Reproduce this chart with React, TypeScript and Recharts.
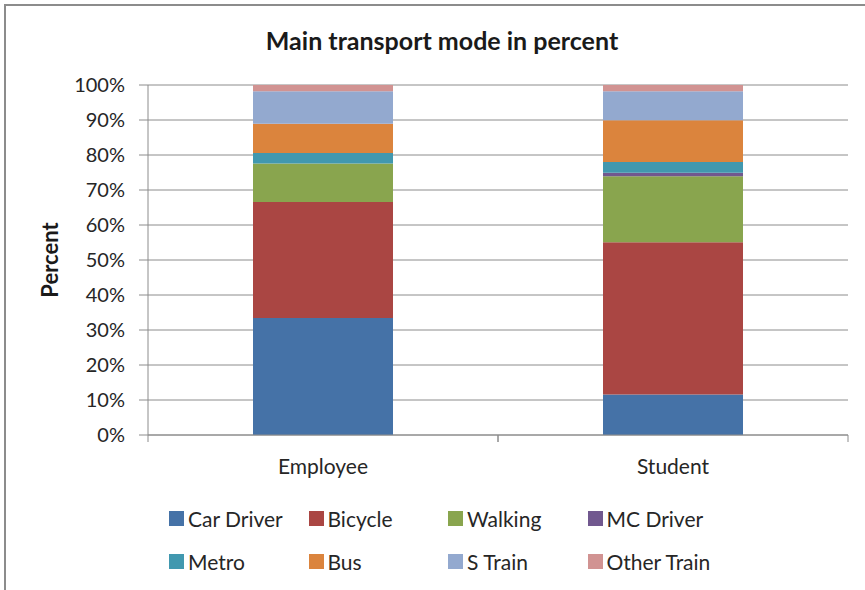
import React from 'react';
import { BarChart, Bar, XAxis, YAxis, CartesianGrid } from 'recharts';

const categories = ['Employee', 'Student'];
const carDriver = [33.4, 11.6];
const bicycle = [33.2, 43.5];
const walking = [11.0, 18.8];
const mcDriver = [0, 1.0];
const metro = [3.0, 3.1];
const bus = [8.3, 11.9];
const sTrain = [9.3, 8.3];
const otherTrain = [1.8, 1.8];
const yTicks = [0, 10, 20, 30, 40, 50, 60, 70, 80, 90, 100];

const series = [
  { key: 'carDriver', name: 'Car Driver', values: carDriver, color: '#4572A7' },
  { key: 'bicycle', name: 'Bicycle', values: bicycle, color: '#AA4643' },
  { key: 'walking', name: 'Walking', values: walking, color: '#89A54E' },
  { key: 'mcDriver', name: 'MC Driver', values: mcDriver, color: '#71588F' },
  { key: 'metro', name: 'Metro', values: metro, color: '#4198AF' },
  { key: 'bus', name: 'Bus', values: bus, color: '#DB843D' },
  { key: 'sTrain', name: 'S Train', values: sTrain, color: '#93A9CF' },
  { key: 'otherTrain', name: 'Other Train', values: otherTrain, color: '#D19392' },
];

const data = categories.map((name, i) => {
  const row: Record<string, string | number> = { name };
  series.forEach((s) => {
    row[s.key] = s.values[i];
  });
  return row;
});

const FONT = 'Lato, "Open Sans", sans-serif';
const GRID = '#8c8c8c';
const LABEL_GAP = 21;

// category label plus Excel-style tick marks on the category boundaries
const CategoryTick = (props: any) => {
  const { x, y, payload } = props;
  const half = payload.offset || 0;
  const axisY = y - LABEL_GAP;
  return (
    <g>
      <line x1={x - half} x2={x - half} y1={axisY} y2={axisY + 7} stroke={GRID} />
      <line x1={x + half} x2={x + half} y1={axisY} y2={axisY + 7} stroke={GRID} />
      <text x={x} y={y + 18} textAnchor="middle" fill="#262626" fontSize={21} fontFamily={FONT}>
        {payload.value}
      </text>
    </g>
  );
};

const App: React.FC = () => {
  return (
    <div style={{ position: 'absolute', left: 0, top: 0, width: 865, height: 590, overflow: 'hidden', background: '#fff', fontFamily: FONT }}>
      <div
        style={{
          position: 'absolute',
          left: 4,
          top: 4,
          width: 880,
          height: 600,
          border: `2px solid ${GRID}`,
        }}
      />
      <div
        style={{
          position: 'absolute',
          left: 0,
          top: 25,
          width: 884,
          textAlign: 'center',
          fontSize: 25,
          fontWeight: 700,
          lineHeight: '30px',
          color: '#1a1a1a',
        }}
      >
        Main transport mode in percent
      </div>
      <BarChart
        width={865}
        height={590}
        data={data}
        margin={{ top: 85, right: 17, bottom: 100, left: 0 }}
        barCategoryGap="30%"
        style={{ position: 'absolute', left: 0, top: 0 }}
      >
        <CartesianGrid vertical={false} stroke={GRID} strokeWidth={1} />
        <XAxis
          dataKey="name"
          height={55}
          axisLine={{ stroke: GRID }}
          tickLine={false}
          tickSize={0}
          tickMargin={LABEL_GAP}
          tick={<CategoryTick />}
        />
        <YAxis
          width={148}
          domain={[0, 100]}
          ticks={yTicks}
          interval={0}
          tickFormatter={(v: number) => `${v}%`}
          tickSize={9}
          tickMargin={14}
          axisLine={{ stroke: GRID }}
          tickLine={{ stroke: GRID }}
          tick={{ fill: '#262626', fontSize: 20, fontFamily: FONT }}
          label={{
            value: 'Percent',
            angle: -90,
            position: 'insideLeft',
            offset: 50,
            textAnchor: 'middle',
            style: { fontSize: 22, fontWeight: 700, fill: '#1a1a1a', fontFamily: FONT },
          }}
        />
        {series.map((s) => (
          <Bar
            key={s.key}
            dataKey={s.key}
            name={s.name}
            stackId="a"
            fill={s.color}
            isAnimationActive={false}
          />
        ))}
      </BarChart>
      {series.map((s, i) => {
        const col = i % 4;
        const row = Math.floor(i / 4);
        return (
          <div
            key={s.key}
            style={{
              position: 'absolute',
              left: 169 + col * 139.5,
              top: 504 + row * 43.5,
              height: 28,
              display: 'flex',
              alignItems: 'center',
              fontSize: 21,
              color: '#262626',
              whiteSpace: 'nowrap',
            }}
          >
            <span style={{ display: 'inline-block', width: 15, height: 15, background: s.color, marginRight: 4 }} />
            {s.name}
          </div>
        );
      })}
    </div>
  );
};

export default App;
